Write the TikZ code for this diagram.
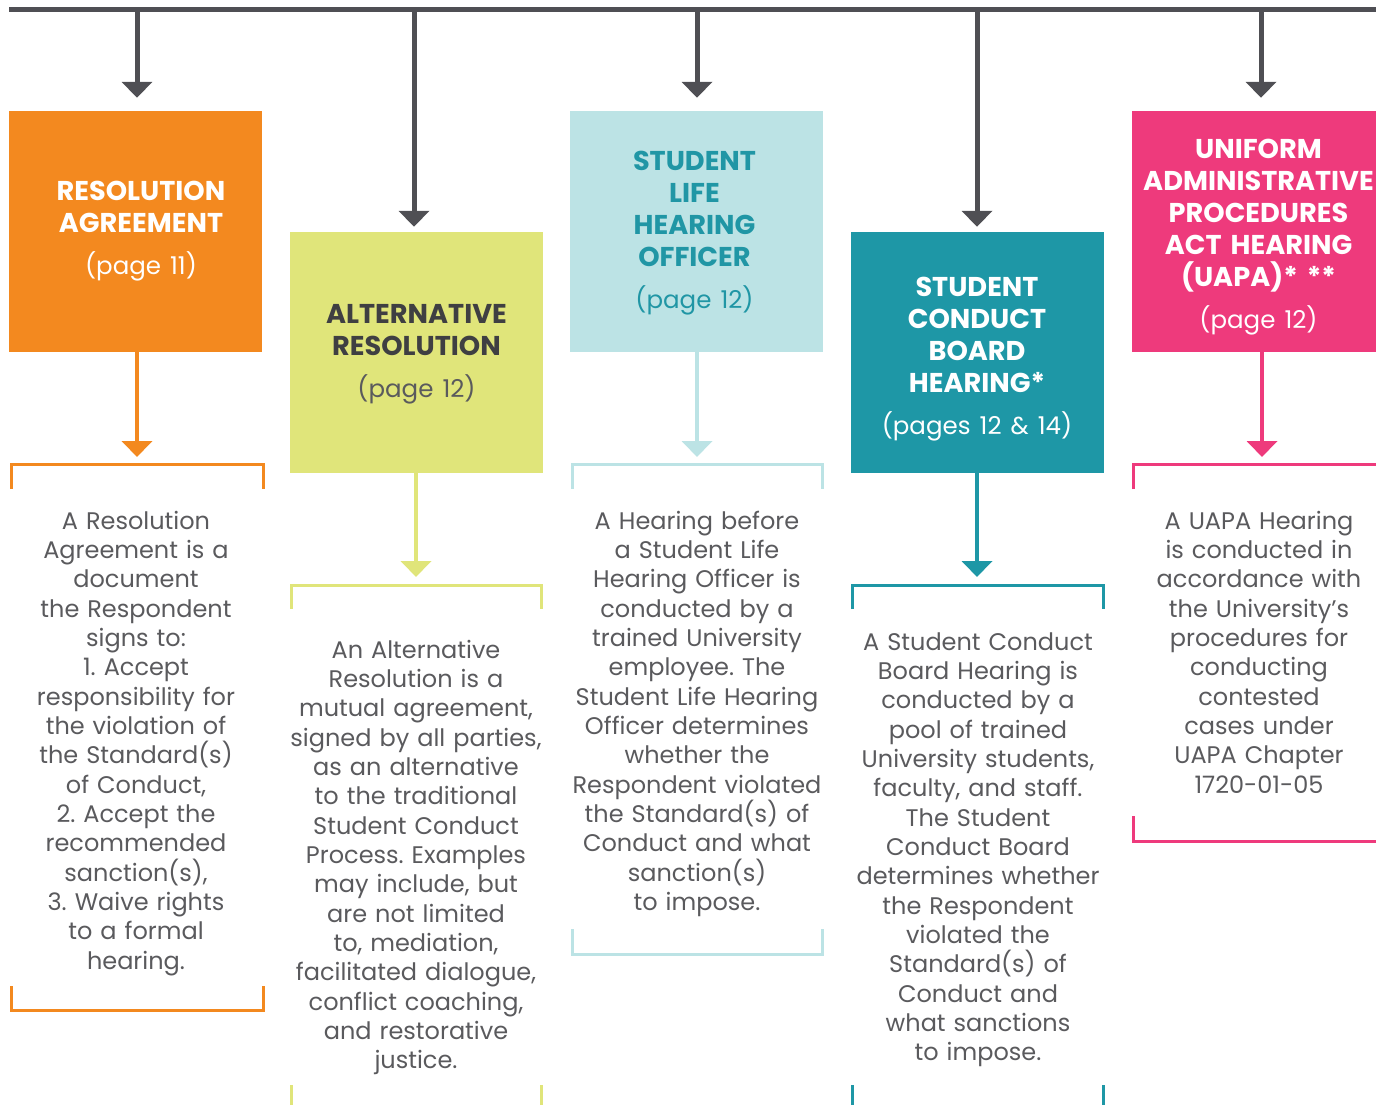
\documentclass[tikz,border=0pt]{standalone}
\usepackage{fontspec}
\setmainfont{Poppins}
\usetikzlibrary{arrows.meta}
\definecolor{linegray}{HTML}{4F4F54}
\definecolor{txtgray}{HTML}{5A5A5D}
\definecolor{corange}{HTML}{F3891F}
\definecolor{cyellow}{HTML}{E0E57A}
\definecolor{clblue}{HTML}{BCE3E5}
\definecolor{cteal}{HTML}{1E97A6}
\definecolor{ctealtxt}{HTML}{2096A5}
\definecolor{cpink}{HTML}{EE3A7C}
\definecolor{darktxt}{HTML}{3F3F42}
\newcommand{\pagefont}{\mdseries\fontsize{24.5}{32}\selectfont}
\begin{document}
\frenchspacing
\begin{tikzpicture}[x=1pt,y=-1pt,
  box/.style={inner sep=0pt,minimum width=253pt,minimum height=241pt},
  title/.style={inner sep=0pt,text width=270pt,align=center,anchor=base,
    font=\fontsize{27.2}{32}\selectfont\bfseries},
  body/.style={inner sep=0pt,text width=270pt,align=center,anchor=base,text=txtgray,
    font=\fontsize{24}{29.35}\selectfont},
  toparrow/.style={draw=linegray,line width=5pt,-{Triangle[width=30pt,length=16pt]}},
  colarrow/.style={line width=4pt,-{Triangle[width=30pt,length=16pt]}},
  bracket/.style={line width=3pt}
]
\useasboundingbox (0,0) rectangle (1376,1105);
\draw[draw=linegray,line width=5pt] (9,10) -- (1376,10);
\coordinate (t1) at (137,10);
\coordinate (t2) at (414,10);
\coordinate (t3) at (697,10);
\coordinate (t4) at (977,10);
\coordinate (t5) at (1261,10);

% boxes
\node[box,fill=corange] (b1) at (135.5,231.5) {};
\node[box,fill=cyellow] (b2) at (416.5,352.5) {};
\node[box,fill=clblue] (b3) at (696.5,231.5) {};
\node[box,fill=cteal] (b4) at (977.5,352.5) {};
\node[box,fill=cpink,minimum width=244pt] (b5) at (1254,231.5) {};

\node[title,text=white] (h1) at (141,200.5)
  {RESOLUTION\\AGREEMENT\\[10pt]{\pagefont (page 11)}};
\node[title,text=darktxt] (h2) at (416.5,323.5)
  {ALTERNATIVE\\RESOLUTION\\[10pt]{\pagefont\color{txtgray}(page 12)}};
\node[title,text=ctealtxt] (h3) at (694.5,170.5)
  {STUDENT\\LIFE\\HEARING\\OFFICER\\[10pt]{\pagefont (page 12)}};
\node[title,text=white] (h4) at (977,296.5)
  {STUDENT\\CONDUCT\\BOARD\\HEARING*\\[10pt]{\pagefont (pages 12 \& 14)}};
\node[title,text=white] (h5) at (1258.5,158.5)
  {UNIFORM\\ADMINISTRATIVE\\PROCEDURES\\ACT HEARING\\(UAPA)* **\\[10pt]{\pagefont (page 12)}};

\draw[toparrow,shorten >=13pt] (t1) -- (b1.north -| t1);
\draw[toparrow,shorten >=5pt] (t2) -- (b2.north -| t2);
\draw[toparrow,shorten >=13pt] (t3) -- (b3.north -| t3);
\draw[toparrow,shorten >=5pt] (t4) -- (b4.north -| t4);
\draw[toparrow,shorten >=13pt] (t5) -- (b5.north -| t5);

% brackets
\coordinate (k1) at (137,464);
\coordinate (k2) at (416,585);
\coordinate (k3) at (697,464);
\coordinate (k4) at (977,585);
\coordinate (k5) at (1262,464);

\draw[colarrow,draw=corange,fill=corange,shorten >=7pt] (b1.south -| k1) -- (k1);
\draw[colarrow,draw=cyellow,fill=cyellow,shorten >=8pt] (b2.south -| k2) -- (k2);
\draw[colarrow,draw=clblue,fill=clblue,shorten >=7pt] (b3.south -| k3) -- (k3);
\draw[colarrow,draw=cteal,fill=cteal,shorten >=8pt] (b4.south -| k4) -- (k4);
\draw[colarrow,draw=cpink,fill=cpink,shorten >=7pt] (b5.south -| k5) -- (k5);

\draw[bracket,corange] (11,489) |- (263,464) -- (263,489);
\draw[bracket,corange] (11,986) |- (263,1010) -- (263,986);
\draw[bracket,cyellow] (291,609) |- (541,585) -- (541,609);
\draw[bracket,cyellow] (291,1085) -- (291,1105);
\draw[bracket,cyellow] (541,1085) -- (541,1105);
\draw[bracket,clblue] (572,489) |- (822,464) -- (822,489);
\draw[bracket,clblue] (572,929) |- (822,954) -- (822,929);
\draw[bracket,cteal] (852,609) |- (1103,585) -- (1103,609);
\draw[bracket,cteal] (852,1085) -- (852,1105);
\draw[bracket,cteal] (1103,1085) -- (1103,1105);
\draw[bracket,cpink] (1133,489) |- (1376,464);
\draw[bracket,cpink] (1133,816) |- (1376,841);

% body texts
\node[body] (d1) at (136,529) {A Resolution\\Agreement is a\\document\\the Respondent\\signs to:\\1. Accept\\responsibility for\\the violation of\\the Standard(s)\\of Conduct,\\2. Accept the\\recommended\\sanction(s),\\3. Waive rights\\to a formal\\hearing.};
\node[body] (d2) at (416,658) {An Alternative\\Resolution is a\\mutual agreement,\\signed by all parties,\\as an alternative\\to the traditional\\Student Conduct\\Process. Examples\\may include, but\\are not limited\\to, mediation,\\facilitated dialogue,\\conflict coaching,\\and restorative\\justice.};
\node[body] (d3) at (697,529) {A Hearing before\\a Student Life\\Hearing Officer is\\conducted by a\\trained University\\employee. The\\Student Life Hearing\\Officer determines\\whether the\\Respondent violated\\the Standard(s) of\\Conduct and what\\sanction(s)\\to impose.};
\node[body] (d4) at (978,650) {A Student Conduct\\Board Hearing is\\conducted by a\\pool of trained\\University students,\\faculty, and staff.\\The Student\\Conduct Board\\determines whether\\the Respondent\\violated the\\Standard(s) of\\Conduct and\\what sanctions\\to impose.};
\node[body] (d5) at (1259,529) {A UAPA Hearing\\is conducted in\\accordance with\\the University’s\\procedures for\\conducting\\contested\\cases under\\UAPA Chapter\\1720-01-05};
\end{tikzpicture}
\end{document}
